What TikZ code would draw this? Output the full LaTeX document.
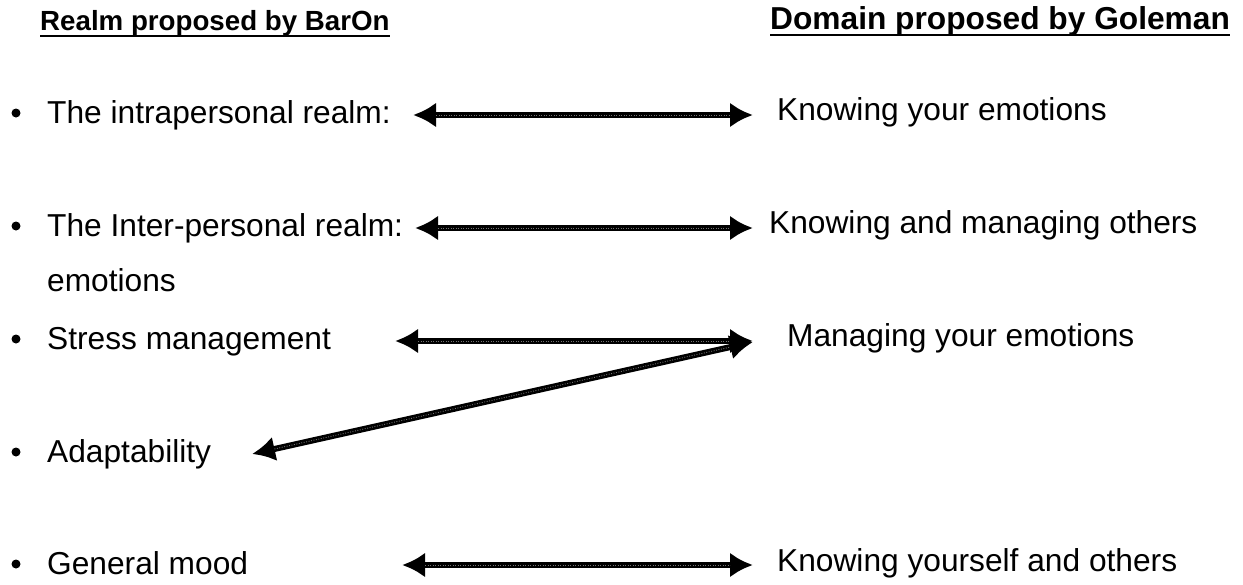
\documentclass[tikz,border=0pt]{standalone}
\usepackage{fontspec}
\setmainfont{Liberation Sans}
\usetikzlibrary{arrows.meta}
\begin{document}
\begin{tikzpicture}[x=1pt,y=-1pt,
  headl/.style={font=\fontsize{27.7}{33}\selectfont\bfseries, anchor=base west, inner sep=0pt},
  headr/.style={font=\fontsize{31.7}{38}\selectfont\bfseries, anchor=base west, inner sep=0pt},
  item/.style={font=\fontsize{31.7}{38}\selectfont, anchor=base west, inner sep=0pt},
  bul/.style={circle, fill=black, inner sep=0pt, minimum size=9pt},
  link/.style={line width=6pt, {Latex[length=23pt,width=25pt]}-{Latex[length=23pt,width=25pt]}},
  grain/.style={line width=0.9pt, black!55, dash pattern=on 0.9pt off 1.6pt, shorten <=23pt, shorten >=23pt},
  rule/.style={line width=2.8pt}]
\useasboundingbox (0,0) rectangle (1243,584);

% column headings
\node[headl] (hl) at (40,30) {Realm proposed by BarOn};
\node[headr] (hr) at (770,29) {Domain proposed by Goleman};
\draw[rule] ([yshift=-6pt]hl.base west) -- ([yshift=-6pt]hl.base east);
\draw[rule] ([yshift=-6pt]hr.base west) -- ([yshift=-6pt]hr.base east);

% BarOn realms
\node[bul] (b1) at (16,113) {};
\node[bul] (b2) at (16,226) {};
\node[bul] (b3) at (16,339) {};
\node[bul] (b4) at (16,452) {};
\node[bul] (b5) at (16,564) {};
\node[item] (l1) at (47,123) {The intrapersonal realm:};
\node[item] (l2) at (47,236) {The Inter-personal realm:};
\node[item] (l2b) at (47,291) {emotions};
\node[item] (l3) at (47,349) {Stress management};
\node[item] (l4) at (47,462) {Adaptability};
\node[item] (l5) at (47,574) {General mood};

% Goleman domains
\node[item] (r1) at (777,120) {Knowing your emotions};
\node[item] (r2) at (769,233) {Knowing and managing others};
\node[item] (r3) at (787,346) {Managing your emotions};
\node[item] (r5) at (777,571) {Knowing yourself and others};

% arrow end points
\coordinate (a1l) at (413,115);  \coordinate (a1r) at (753,115);
\coordinate (a2l) at (415,228);  \coordinate (a2r) at (753,228);
\coordinate (a3l) at (395,341);  \coordinate (a3r) at (753,341);
\coordinate (a4l) at (252,454);  \coordinate (a4r) at (753,342);
\coordinate (a5l) at (402,565);  \coordinate (a5r) at (753,565);

% correspondences, with the speckled fill of the printed shafts
\foreach \p in {a1,a2,a3,a4,a5}{
  \draw[link] (\p l) -- (\p r);
  \draw[grain] (\p l) -- (\p r);
}
\end{tikzpicture}
\end{document}
